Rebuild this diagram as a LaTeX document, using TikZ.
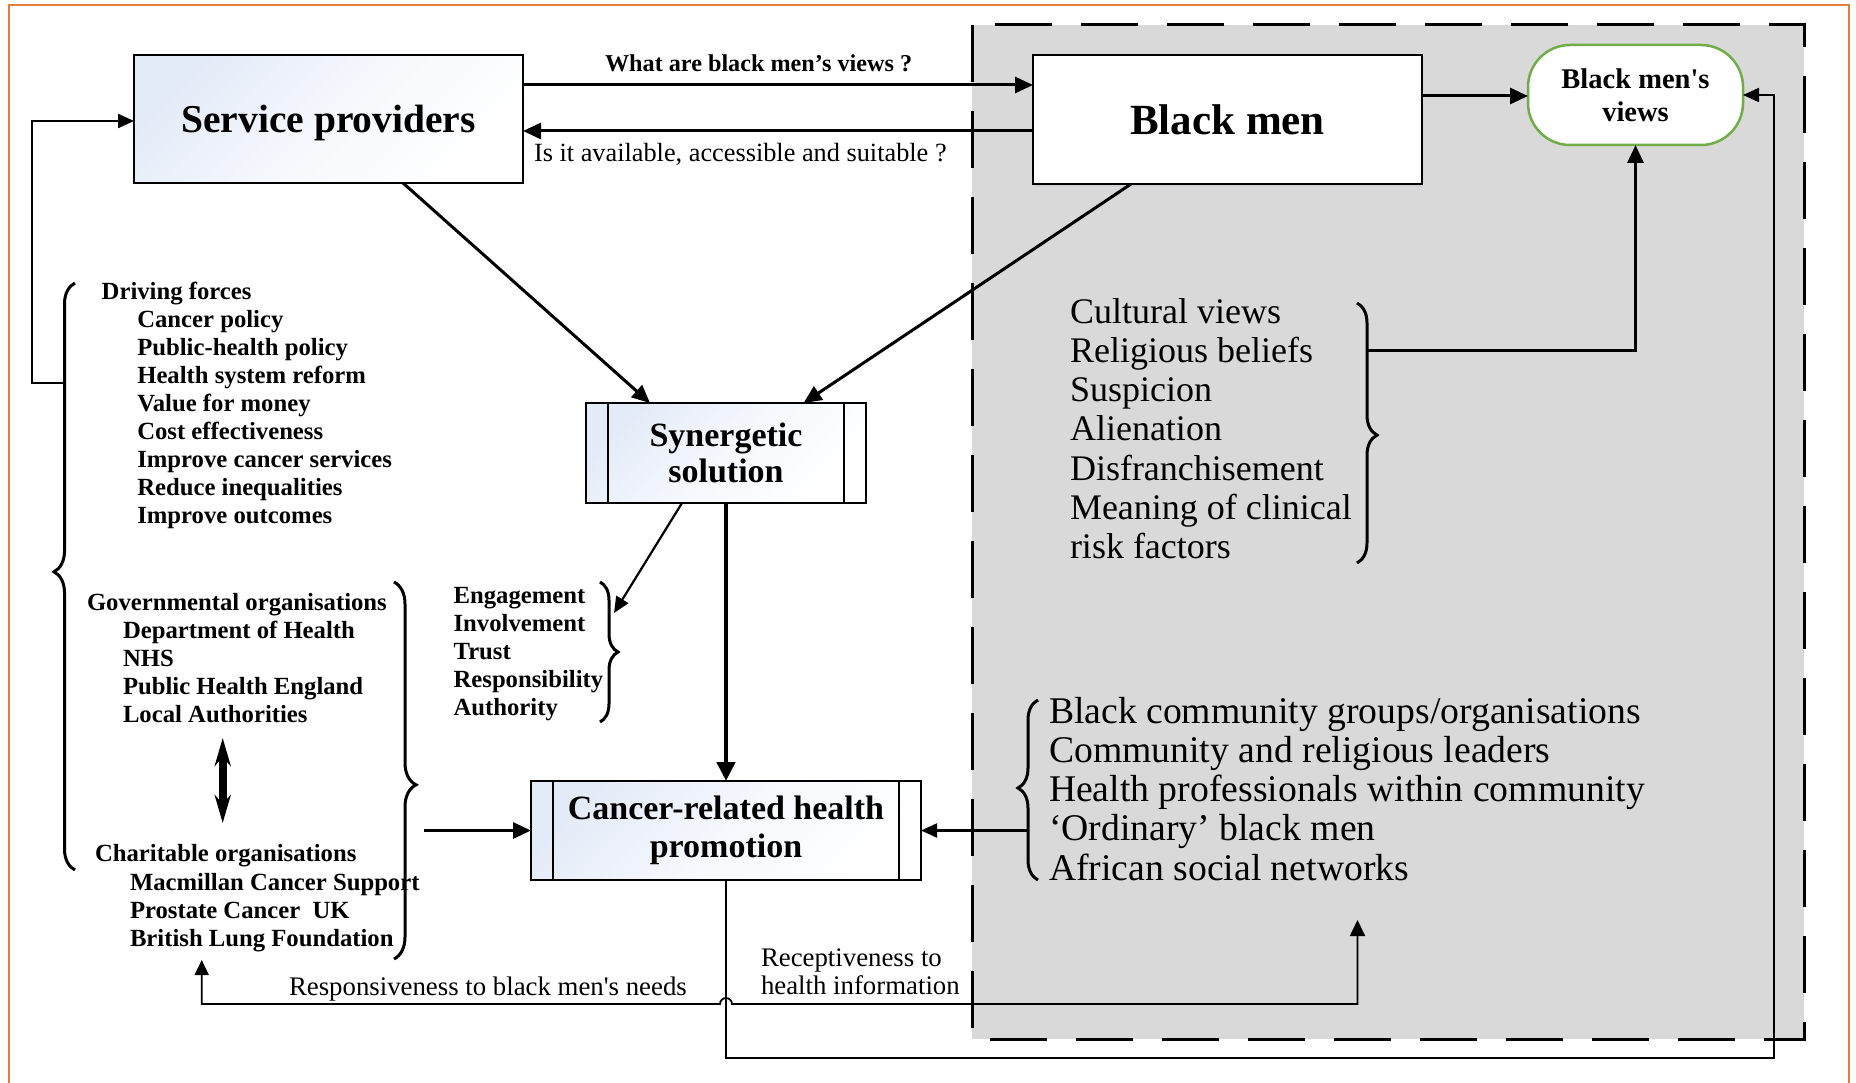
\documentclass[tikz,border=0pt]{standalone}
\usepackage{fontspec}
\setmainfont{Liberation Serif}[Ligatures=TeXOff]
\usetikzlibrary{arrows.meta,decorations.pathreplacing,shadows}
\definecolor{frameorange}{RGB}{229,126,58}
\definecolor{zonegray}{RGB}{217,217,217}
\definecolor{boxblue}{RGB}{228,235,248}
\definecolor{viewgreen}{RGB}{112,173,71}
\newcommand{\fsz}[2]{\fontsize{#1pt}{#2pt}\selectfont}
\begin{document}
\begin{tikzpicture}[x=1pt,y=-1pt,
  every node/.style={inner sep=0pt, outer sep=0pt},
  txt/.style={anchor=base west, align=left},
  boldlist/.style={txt, font=\bfseries\fsz{24.7}{28}},
  pbox/.style={draw, line width=2pt, top color=boxblue, bottom color=white, middle color=boxblue!35!white, shading angle=45},
  arr/.style={line width=3pt, -{Triangle[length=18pt,width=16pt]}},
  thickarr/.style={line width=4.5pt, -{Triangle[length=19pt,width=18pt]}},
  midarr/.style={line width=2.2pt, -{Triangle[length=16pt,width=14pt]}},
  thinarr/.style={line width=1.8pt, -{Triangle[length=16pt,width=14pt]}},
  twoway/.style={line width=1.8pt, {Triangle[length=15pt,width=14pt]}-{Triangle[length=16pt,width=15pt]}},
  dblarr/.style={line width=8pt, {Stealth[length=28pt,width=16pt]}-{Stealth[length=28pt,width=16pt]}},
  bracestyle/.style={decorate, line width=3pt},
]
\useasboundingbox (0,0) rectangle (1856,1083);

% community zone
\fill[zonegray] (972,25) rectangle (1804,1039);
\draw[line width=3pt, dash pattern=on 57pt off 29pt] (972,25) rectangle (1804,1039);

% outer frame
\draw[frameorange, line width=2pt] (8.7,1083) -- (8.7,5) -- (1849,5) -- (1849,1083);

% main boxes
\node[pbox, minimum width=389pt, minimum height=128pt, text depth=0pt,
      font=\bfseries\fsz{39.5}{44}] (sp) at (328.5,119) {Service providers};
\node[draw, line width=2pt, fill=white,
      drop shadow={shadow xshift=1pt, shadow yshift=-3pt, fill=boxblue!70!gray, opacity=0.5},
      minimum width=389pt, minimum height=129pt,
      font=\bfseries\fsz{43}{48}] (bm) at (1227.5,119.5) {Black men};
\node[draw=viewgreen, line width=2.5pt, fill=white, rounded corners=42pt,
      minimum width=215pt, minimum height=100pt, align=center,
      font=\bfseries\fsz{28.5}{32.7}] (bmv) at (1635.5,95) {Black men's\\views};
\node[pbox, minimum width=280pt, minimum height=100pt, align=center,
      font=\bfseries\fsz{34}{36.7}] (ss) at (726,453) {Synergetic\\solution};
\node[pbox, minimum width=390pt, minimum height=99pt, align=center,
      font=\bfseries\fsz{34}{38.3}] (crhp) at (726,830.5) {Cancer-related health\\promotion};
\foreach \b in {ss,crhp}{
  \draw[line width=2pt] ([xshift=22pt]\b.north west) -- ([xshift=22pt]\b.south west);
  \draw[line width=2pt] ([xshift=-22pt]\b.north east) -- ([xshift=-22pt]\b.south east);
}

% lists (multi-line nodes sit on the baseline of their last line)
\node[boldlist] (drvhead) at (101.7,299.5) {Driving forces};
\node[boldlist] (drvitems) at (137.3,523.5) {Cancer policy\\Public-health policy\\Health system reform\\Value for money\\Cost effectiveness\\Improve cancer services\\Reduce inequalities\\Improve outcomes};
\node[boldlist] (govhead) at (87,610) {Governmental organisations};
\node[boldlist] (govitems) at (123,722) {Department of Health\\NHS\\Public Health England\\Local Authorities};
\node[boldlist] (charhead) at (95,861.7) {Charitable organisations};
\node[boldlist] (charitems) at (130,946) {Macmillan Cancer Support\\Prostate Cancer\ \ UK\\British Lung Foundation};
\node[boldlist] (engage) at (453.6,715.3) {Engagement\\Involvement\\Trust\\Responsibility\\Authority};
\node[txt, font=\fsz{36}{39.2}] (culture) at (1070,558.5) {Cultural views\\Religious beliefs\\Suspicion\\Alienation\\Disfranchisement\\Meaning of clinical\\risk factors};
\node[txt, font=\fsz{37.7}{39.2}] (community) at (1049,880.1) {Black community groups/organisations\\Community and religious leaders\\Health professionals within community\\‘Ordinary’ black men\\African social networks};

% connector labels
\node[txt, font=\bfseries\fsz{24.2}{28}] (qviews) at (605,71.7) {What are black men’s views ?};
\node[txt, font=\fsz{26.3}{28}] (qavail) at (534,161.7) {Is it available, accessible and suitable ?};
\node[txt, font=\fsz{26.8}{28}] (respond) at (289,995) {Responsiveness to black men's needs};
\node[txt, font=\fsz{26.8}{27.7}] (receive) at (761,994.4) {Receptiveness to\\health information};

% braces
\draw[bracestyle, decoration={brace, amplitude=21pt, aspect=0.508}] (75,870) -- (75,283);
\draw[bracestyle, decoration={brace, amplitude=22pt, aspect=0.538}] (394,582) -- (394,959);
\draw[bracestyle, decoration={brace, amplitude=18pt, aspect=0.5}] (600,582) -- (600,722);
\draw[bracestyle, decoration={brace, amplitude=20pt, aspect=0.508}] (1357,303) -- (1357,563);
\draw[bracestyle, decoration={brace, amplitude=20pt, aspect=0.511}] (1038,880) -- (1038,700);

% connector end points
\coordinate (drvstem) at (64,383);
\coordinate (culstem) at (1367,351);
\coordinate (engtip) at (614,613);
\coordinate (govarr) at (424,830.5);
\coordinate (comarr) at (1027,830.5);
\coordinate (respL) at (201.7,960);
\coordinate (recR) at (1357.5,920);
\coordinate (bridge) at (720,1004);
\coordinate (loopR) at (1774,1058);
\coordinate (xtop) at (222.7,738);
\coordinate (xbot) at (222.7,823);

% connectors
\draw[arr] ([yshift=34pt]sp.east) -- ([yshift=34.5pt]bm.west);
\draw[arr] ([yshift=-11.5pt]bm.west) -- ([yshift=-12pt]sp.east);
\draw[arr] ([yshift=23.5pt]bm.east) -- ([yshift=-1pt]bmv.west);
\draw[arr] ([xshift=74.5pt]sp.south) -- ([xshift=-76pt]ss.north);
\draw[arr] ([xshift=-96.5pt]bm.south) -- ([xshift=77.6pt]ss.north);
\draw[thickarr] (ss.south) -- (crhp.north);
\draw[midarr] ([xshift=-44pt]ss.south) -- (engtip);
\draw[arr] (culstem) -| (bmv.south);
\draw[arr] (govarr) -- (crhp.west);
\draw[midarr] (comarr) -- (crhp.east);
\draw[midarr] (drvstem) -- ++(-32,0) |- ([yshift=-2pt]sp.west);
\draw[thinarr] (crhp.south) |- (loopR) |- (bmv.east);
\draw[twoway] (respL) |- (bridge) arc[start angle=180, end angle=0, radius=6pt] -| (recR);
\draw[dblarr] (xtop) -- (xbot);
\end{tikzpicture}
\end{document}
